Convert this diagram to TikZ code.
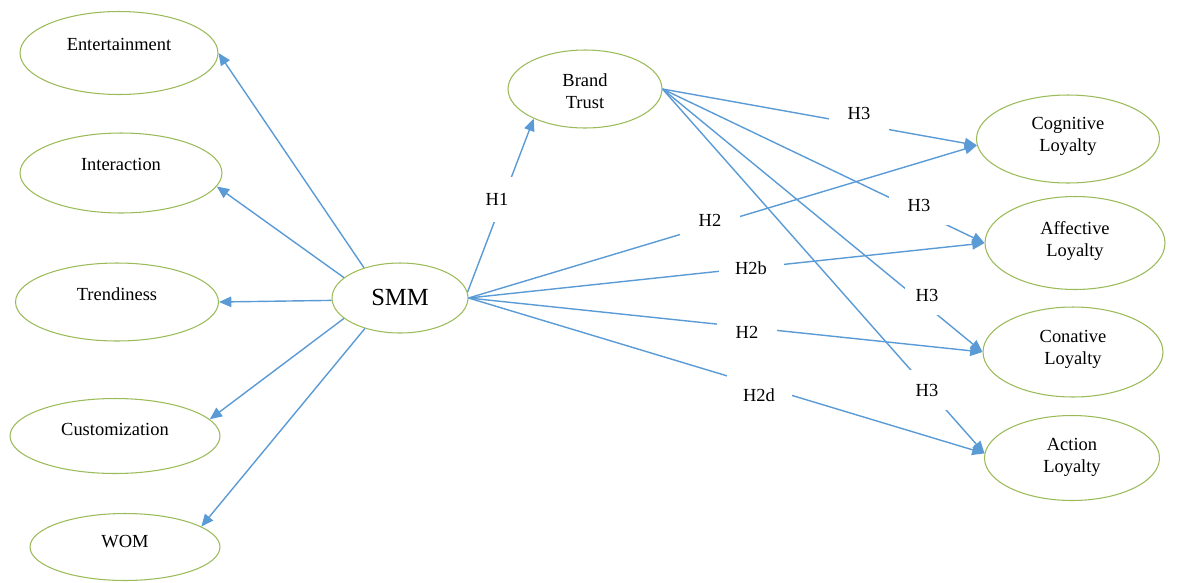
\documentclass[tikz,border=0pt]{standalone}
\usepackage{fontspec}
\setmainfont{Liberation Serif}
\usetikzlibrary{arrows.meta,shapes.geometric}
\definecolor{ellgreen}{RGB}{155,187,89}
\definecolor{arrblue}{RGB}{91,155,213}
\begin{document}
\begin{tikzpicture}[x=0.02cm,y=-0.02cm,
  ell/.style={draw=ellgreen, line width=0.6pt, ellipse, inner sep=0pt, fill=white},
  txt/.style={font=\fontsize{10.5}{12.5}\selectfont, align=center, inner sep=0pt},
  arr/.style={draw=arrblue, line width=0.8pt, -{Triangle[length=7pt,width=6pt]}},
  lab/.style={fill=white, font=\fontsize{10.5}{12.5}\selectfont, minimum width=1.2cm, minimum height=0.8cm, inner sep=0pt}]
\useasboundingbox (0,0) rectangle (1183,582);
% ellipses
\node[ell, minimum width=3.96cm, minimum height=1.66cm] (ent) at (119,53) {};
\node[ell, minimum width=4.04cm, minimum height=1.60cm] (int) at (121,173) {};
\node[ell, minimum width=4.06cm, minimum height=1.56cm] (tre) at (117,302) {};
\node[ell, minimum width=4.20cm, minimum height=1.50cm] (cus) at (115,436) {};
\node[ell, minimum width=3.80cm, minimum height=1.34cm] (wom) at (125,547) {};
\node[ell, minimum width=2.72cm, minimum height=1.40cm] (smm) at (400,298) {};
\node[ell, minimum width=3.08cm, minimum height=1.56cm] (bt) at (585,89) {};
\node[ell, minimum width=3.66cm, minimum height=1.76cm] (cog) at (1068,139) {};
\node[ell, minimum width=3.60cm, minimum height=1.86cm] (aff) at (1075,243) {};
\node[ell, minimum width=3.60cm, minimum height=1.80cm] (con) at (1073,352) {};
\node[ell, minimum width=3.50cm, minimum height=1.70cm] (act) at (1072,458) {};
% texts
\node[txt] (entt) at (119,44) {Entertainment};
\node[txt] (intt) at (121,164) {Interaction};
\node[txt] (tret) at (117,294) {Trendiness};
\node[txt] (cust) at (115,429) {Customization};
\node[txt] (womt) at (125,542) {WOM};
\node[txt, font=\fontsize{14}{16}\selectfont] (smmt) at (400,297) {SMM};
\node[txt] (btt) at (585,91) {Brand\\Trust};
\node[txt] (cogt) at (1068,136) {Cognitive\\Loyalty};
\node[txt] (afft) at (1075,241) {Affective\\Loyalty};
\node[txt] (cont) at (1073,349) {Conative\\Loyalty};
\node[txt] (actt) at (1072,457) {Action\\Loyalty};
% arrows to dimensions
\draw[arr] (smm.140) -- (ent.east);
\draw[arr] (smm.160) -- (int.-8);
\draw[arr] (smm.182) -- (tre.east);
\draw[arr] (smm.200) -- (cus.10);
\draw[arr] (smm.221) -- (wom.15);
% hypotheses
\draw[arr] (smm.5) -- (bt.210);
\draw[arr] (smm.east) -- (cog.184);
\draw[arr] (smm.east) -- (aff.west);
\draw[arr] (smm.east) -- (con.west);
\draw[arr] (smm.east) -- (act.177);
\draw[arr] (bt.east) -- (cog.184);
\draw[arr] (bt.east) -- (aff.west);
\draw[arr] (bt.east) -- (con.west);
\draw[arr] (bt.east) -- (act.177);
% labels
\node[lab, minimum width=0.7cm, minimum height=0.9cm] (h1) at (497,199) {H1};
\node[lab] (h2a) at (710,220) {H2};
\node[lab, minimum width=1.3cm] (h2b) at (751,268) {H2b};
\node[lab] (h2c) at (747,332) {H2};
\node[lab, minimum width=1.3cm] (h2d) at (759,395) {H2d};
\node[lab] (h3a) at (859,113) {H3};
\node[lab] (h3b) at (919,205) {H3};
\node[lab, minimum width=0.9cm] (h3c) at (927,295) {H3};
\node[lab, minimum width=0.9cm] (h3d) at (927,390) {H3};
\end{tikzpicture}
\end{document}
